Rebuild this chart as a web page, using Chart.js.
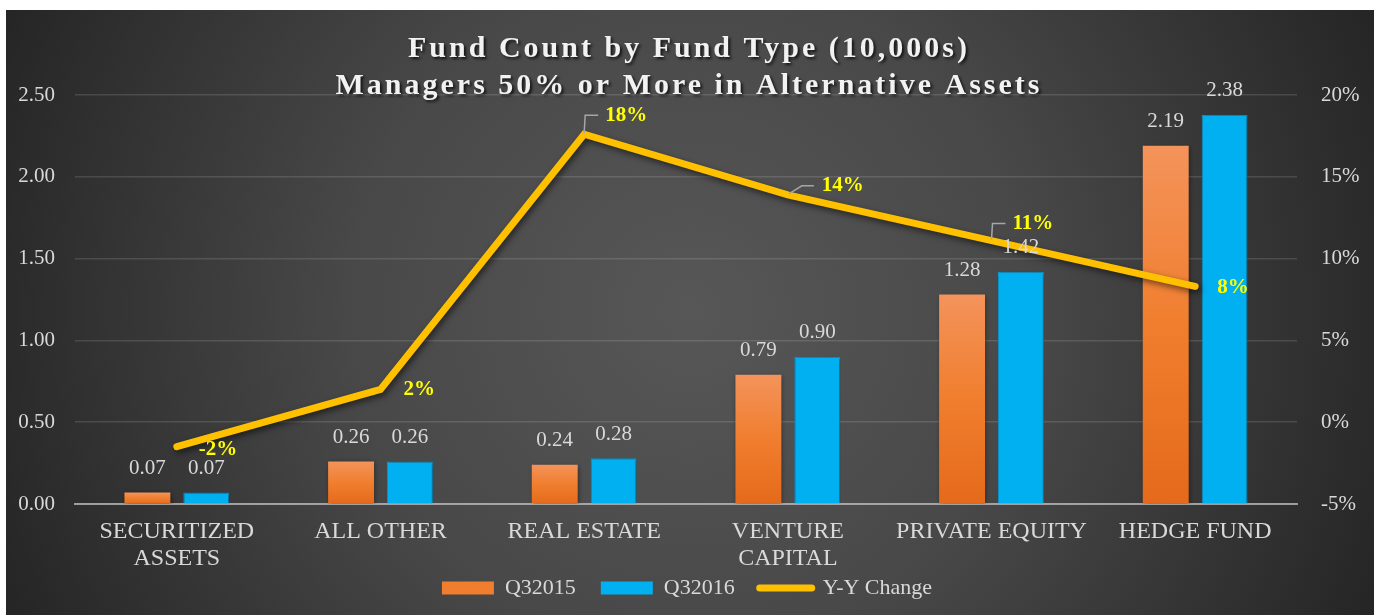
<!DOCTYPE html>
<html>
<head>
<meta charset="utf-8">
<script src="https://cdn.jsdelivr.net/npm/chart.js@4.4.1/dist/chart.umd.min.js"></script>
<style>
  html, body { margin: 0; padding: 0; background: #ffffff; }
  #wrap { width: 1374px; height: 615px; position: relative; }
</style>
</head>
<body>
<div id="wrap"><canvas id="c" width="1374" height="615"></canvas></div>
<script>
// ---- data ----
const categories = [["SECURITIZED", "ASSETS"], "ALL OTHER", "REAL ESTATE", ["VENTURE", "CAPITAL"], "PRIVATE EQUITY", "HEDGE FUND"];
const q32015 = [0.07, 0.26, 0.24, 0.79, 1.28, 2.19];
const q32016 = [0.07, 0.26, 0.28, 0.90, 1.42, 2.38];
const yyChange = [-1.5, 2.0, 17.6, 13.9, 11.1, 8.3];
const seriesNames = ["Q32015", "Q32016", "Y-Y Change"];
const titleLines = ["Fund Count by Fund Type (10,000s)", "Managers 50% or More in Alternative Assets"];

// ---- styles ----
const SERIF = "'Liberation Serif', 'DejaVu Serif', serif";
const TXT = '#d9d9d9';
const ORANGE_TOP = '#f4935b', ORANGE_BOT = '#e56a1b', BLUE = '#00b0f0', YELLOW = '#ffc000', LABEL_YELLOW = '#ffff00';
// label placement per line point: [dx, dy, leader type]
const lineLabelStyle = [
  { dx: 22, dy: 3, leader: null },
  { dx: 23, dy: 0, leader: null },
  { dx: 21, dy: -19, leader: 'up' },
  { dx: 34, dy: -9, leader: 'diag' },
  { dx: 21, dy: -17, leader: 'up' },
  { dx: 22, dy: 1, leader: null }
];

const bgPlugin = {
  id: 'bg',
  beforeDraw(chart) {
    const ctx = chart.ctx;
    ctx.save();
    ctx.fillStyle = '#ffffff';
    ctx.fillRect(0, 0, chart.width, chart.height);
    const g = ctx.createRadialGradient(690, 310, 0, 690, 310, 760);
    g.addColorStop(0, '#575757');
    g.addColorStop(0.45, '#484848');
    g.addColorStop(1, '#242424');
    ctx.fillStyle = g;
    ctx.fillRect(6, 10, chart.width - 6, chart.height - 10);
    // title
    ctx.font = "bold 30px " + SERIF;
    ctx.textAlign = 'center';
    ctx.textBaseline = 'middle';
    ctx.letterSpacing = '3px';
    ctx.shadowColor = 'rgba(0,0,0,0.75)';
    ctx.shadowBlur = 3;
    ctx.shadowOffsetX = 2;
    ctx.shadowOffsetY = 2;
    ctx.fillStyle = '#f2f2f2';
    ctx.fillText(titleLines[0], 689, 49);
    ctx.fillText(titleLines[1], 689, 86);
    ctx.restore();
  },
  beforeDatasetDraw(chart, args) {
    const ctx = chart.ctx;
    ctx.save();
    if (args.meta.type === 'line') {
      ctx.shadowColor = 'rgba(0,0,0,0.55)';
      ctx.shadowBlur = 6;
      ctx.shadowOffsetX = 2;
      ctx.shadowOffsetY = 3;
    } else {
      ctx.shadowColor = 'rgba(0,0,0,0.45)';
      ctx.shadowBlur = 5;
      ctx.shadowOffsetX = 1;
      ctx.shadowOffsetY = 1;
    }
  },
  afterDatasetDraw(chart) {
    chart.ctx.restore();
  },
  afterDatasetsDraw(chart) {
    const ctx = chart.ctx;
    ctx.save();
    // bar value labels
    ctx.font = "21px " + SERIF;
    ctx.fillStyle = TXT;
    ctx.textAlign = 'center';
    ctx.textBaseline = 'middle';
    [0, 1].forEach(di => {
      const meta = chart.getDatasetMeta(di);
      const vals = chart.data.datasets[di].data;
      meta.data.forEach((bar, i) => {
        ctx.fillText(vals[i].toFixed(2), bar.x, bar.y - 24);
      });
    });
    // line labels
    const meta = chart.getDatasetMeta(2);
    const vals = chart.data.datasets[2].data;
    meta.data.forEach((pt, i) => {
      const st = lineLabelStyle[i];
      const tx = pt.x + st.dx, ty = pt.y + st.dy;
      if (st.leader) {
        ctx.strokeStyle = '#a6a6a6';
        ctx.lineWidth = 1.5;
        ctx.beginPath();
        if (st.leader === 'up') {
          ctx.moveTo(pt.x, pt.y - 1);
          ctx.lineTo(pt.x + 1, ty);
          ctx.lineTo(tx - 7, ty);
        } else {
          ctx.moveTo(pt.x + 1, pt.y - 1);
          ctx.lineTo(pt.x + 14, ty);
          ctx.lineTo(tx - 8, ty);
        }
        ctx.stroke();
      }
      ctx.font = "bold 21px " + SERIF;
      ctx.fillStyle = LABEL_YELLOW;
      ctx.textAlign = 'left';
      ctx.fillText(vals[i].toFixed(0) + '%', tx, ty);
    });
    ctx.restore();
  }
};

function orangeFill(c) {
  const chart = c.chart;
  if (!chart.chartArea || c.raw === undefined) return ORANGE_BOT;
  const ys = chart.scales.y;
  const y0 = ys.getPixelForValue(c.raw), y1 = ys.getPixelForValue(0);
  if (!isFinite(y0) || y1 - y0 < 1) return ORANGE_BOT;
  const g = chart.ctx.createLinearGradient(0, y0, 0, y1);
  g.addColorStop(0, ORANGE_TOP);
  g.addColorStop(0.5, '#f07e2e');
  g.addColorStop(1, ORANGE_BOT);
  return g;
}

new Chart(document.getElementById('c'), {
  data: {
    labels: categories,
    datasets: [
      { type: 'bar', label: seriesNames[0], data: q32015, yAxisID: 'y', backgroundColor: orangeFill, order: 1,
        categoryPercentage: 0.578, barPercentage: 0.78 },
      { type: 'bar', label: seriesNames[1], data: q32016, yAxisID: 'y', backgroundColor: BLUE, borderColor: '#0b9fd6', borderWidth: 1, order: 1,
        categoryPercentage: 0.578, barPercentage: 0.78 },
      { type: 'line', label: seriesNames[2], data: yyChange, yAxisID: 'y1', borderColor: YELLOW, backgroundColor: YELLOW,
        borderWidth: 7, pointRadius: 0, tension: 0, borderCapStyle: 'round', borderJoinStyle: 'miter', order: 0 }
    ]
  },
  options: {
    responsive: false,
    animation: false,
    devicePixelRatio: 1,
    layout: { padding: { top: 95, bottom: 6, left: 0, right: 0 } },
    plugins: {
      title: { display: false },
      tooltip: { enabled: false },
      legend: {
        position: 'bottom',
        labels: {
          usePointStyle: true,
          pointStyleWidth: 52,
          boxHeight: 13,
          padding: 25,
          color: TXT,
          font: { family: SERIF, size: 22 },
          generateLabels(chart) {
            return chart.data.datasets.map((ds, i) => ({
              text: ds.label,
              datasetIndex: i,
              fillStyle: i === 0 ? '#f07e2e' : (i === 1 ? BLUE : YELLOW),
              strokeStyle: i === 2 ? YELLOW : 'rgba(0,0,0,0)',
              lineWidth: i === 2 ? 7 : 0,
              lineCap: 'round',
              pointStyle: i === 2 ? 'line' : 'rect',
              fontColor: TXT,
              hidden: false
            }));
          }
        }
      }
    },
    scales: {
      x: {
        grid: { display: false },
        border: { color: 'rgba(190,190,190,0.75)', width: 2 },
        ticks: { color: TXT, font: { family: SERIF, size: 24, lineHeight: 1.1 }, padding: 7, maxRotation: 0, autoSkip: false },
        afterFit(s) {
          s.height = 48;
          // let the two-line category labels extend below the axis box (as in the reference)
          s._computeLabelArea = () => null;
        }
      },
      y: {
        position: 'left',
        min: 0, max: 2.5,
        ticks: { stepSize: 0.5, color: TXT, font: { family: SERIF, size: 21 }, padding: 20,
          callback: v => Number(v).toFixed(2) },
        grid: { color: 'rgba(255,255,255,0.13)', lineWidth: 1.5, drawTicks: false },
        border: { display: false },
        afterFit(s) { s.width = 75; }
      },
      y1: {
        position: 'right',
        min: -5, max: 20,
        ticks: { stepSize: 5, color: TXT, font: { family: SERIF, size: 21 }, padding: 24, crossAlign: 'near',
          callback: v => v + '%' },
        grid: { display: false, drawTicks: false },
        border: { display: false },
        afterFit(s) { s.width = 77; }
      }
    }
  },
  plugins: [bgPlugin]
});
</script>
</body>
</html>
